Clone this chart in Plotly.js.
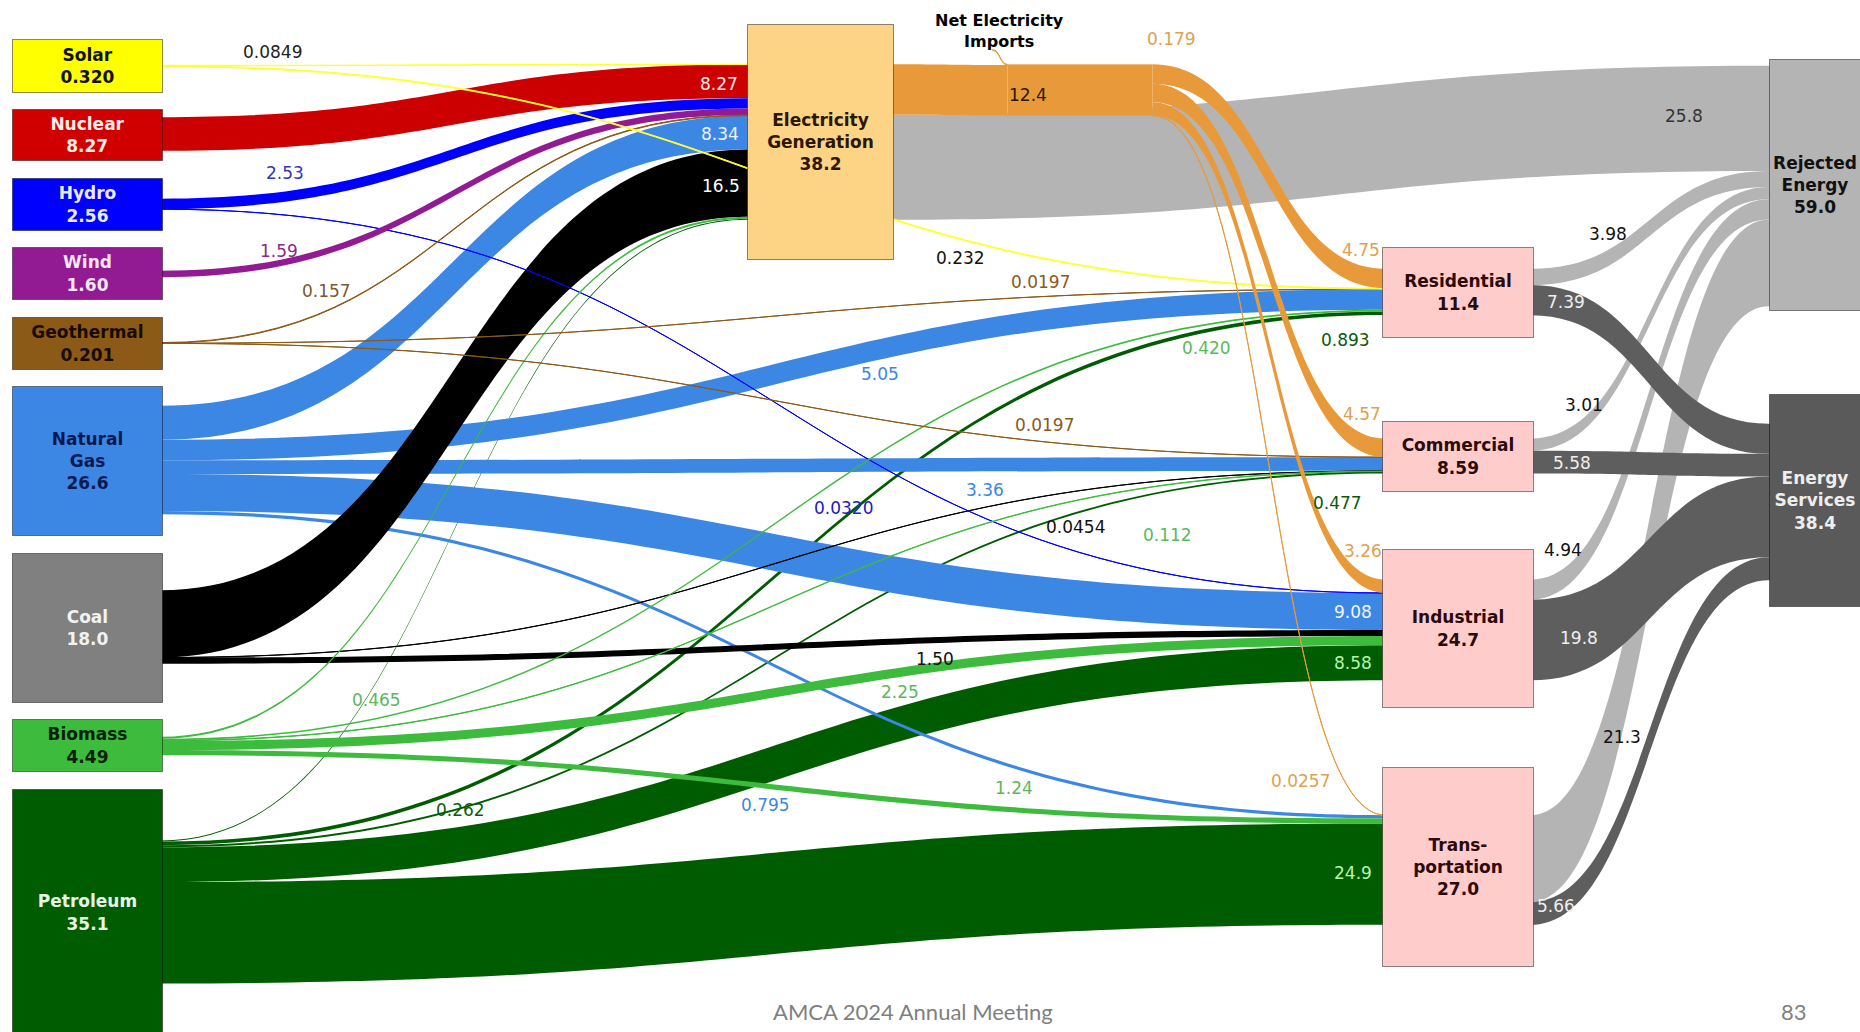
<!DOCTYPE html>
<html><head><meta charset="utf-8">
<script src="https://cdn.plot.ly/plotly-3.0.1.min.js"></script>
<style>html,body{margin:0;padding:0;background:#fff;overflow:hidden}#chart{width:1860px;height:1032px}</style>
</head><body><div id="chart"></div>
<script>
// ================= DATA =================
const nodeNames = ["Solar","Nuclear","Hydro","Wind","Geothermal","Natural Gas","Coal","Biomass","Petroleum",
  "Net Electricity Imports","Electricity Generation","Electricity","Residential","Commercial","Industrial",
  "Transportation","Rejected Energy","Energy Services"];
const nodeDisplay = ["Solar","Nuclear","Hydro","Wind","Geothermal","Natural<br>Gas","Coal","Biomass","Petroleum",
  "Net Electricity<br>Imports","Electricity<br>Generation","","Residential","Commercial","Industrial",
  "Trans-<br>portation","Rejected<br>Energy","Energy<br>Services"];
const nodeTotals = [0.320,8.27,2.56,1.60,0.201,26.6,18.0,4.49,35.1,0.179,38.2,null,11.4,8.59,24.7,27.0,59.0,38.4];

const linkSource = [10,12,13,14,15, 12,13,14,15, 8,8,8,8,8, 5,5,5,5,5, 6,6,6, 1, 2,2, 3, 7,7,7,7,7, 4,4,4, 0,0, 10,9,11,11,11,11];
const linkTarget = [16,16,16,16,16, 17,17,17,17, 15,14,12,13,10, 10,12,13,14,15, 10,14,13, 10, 10,14, 10, 10,12,13,14,15, 10,12,13, 10,12, 11,11,12,13,14,15];
const linkValue  = [25.8,3.98,3.01,4.94,21.3, 7.39,5.58,19.8,5.66, 24.9,8.58,0.893,0.477,0.262,
  8.34,5.05,3.36,9.08,0.795, 16.5,1.50,0.0454, 8.27, 2.53,0.0320, 1.59,
  0.465,0.420,0.112,2.25,1.24, 0.157,0.0197,0.0197, 0.0849,0.232, 12.4,0.179,4.75,4.57,3.26,0.0257];

// ================= LAYOUT / STYLE =================
const W = 1860, H = 1032;
const nodeCX = [87.5,87.5,87.5,87.5,87.5,87.5,87.5,87.5,87.5, 920, 820.5, 1080, 1458,1458,1458,1458, 1841.5,1841.5];
const nodeCY = [66,134,204,274,343,460,627,746,912, 50, 142, 90, 292,456,630,870, 186,502];
const nodeBox = [[12,39,163,93],[12,109,163,161],[12,178,163,231],[12,247,163,300],[12,317,163,370],
  [12,386,163,536],[12,553,163,703],[12,719,163,772],[12,789,163,1036], null, [747,24,894,260], null,
  [1382,247,1534,338],[1382,421,1534,492],[1382,549,1534,708],[1382,767,1534,967],
  [1769,59,1861,311],[1769,394,1861,607]];
const nodeFill = ["#ffff00","#d00000","#0000ff","#921a92","#8b5a17","#3c86e4","#808080","#3dbb3d","#005c00",
  "rgba(0,0,0,0)","#fdd386","#e89a3a","#ffcccc","#ffcccc","#ffcccc","#ffcccc","#b4b4b4","#5a5a5a"];
const nodeTextColor = ["#111","#ffeaea","#eaeaff","#f6e6f6","#1a0a00","#0a1a50","#f2f2f2","#0a200a","#e6f4e6",
  "#000","#2a1800","#000","#2a0a0a","#2a0a0a","#2a0a0a","#2a0a0a","#111","#eeeeee"];
const flowColorBySource = ["#ffff33","#cc0000","#0000ff","#921a92","#8b5a17","#3c86e4","#000000","#3dbb3d","#005c00",
  "#e89a3a","#e89a3a","#e89a3a"];
const rejectedFlow = "#b4b4b4", servicesFlow = "#5e5e5e";

const linkLabelPos = [[1684,116],[1608,234],[1584,405],[1563,550],[1622,737],
  [1566,302],[1572,463],[1579,638],[1556,906],
  [1353,873],[1353,663],[1345,340],[1337,503],[460,810],
  [720,134],[880,374],[985,490],[1353,612],[765,805],
  [721,186],[935,659],[1075,527],[719,84],[285,173],[843,508],[279,251],
  [376,700],[1206,348],[1167,535],[900,692],[1014,788],
  [326,291],[1040,282],[1044,425],[272,52],[960,258],
  [1028,95],[1171,39],[1361,250],[1362,414],[1363,551],[1300,781]];
const linkLabelColor = ["#333","#111","#111","#111","#111",
  "#eeeeee","#eeeeee","#eeeeee","#eeeeee",
  "#b8f5a8","#b8f5a8","#0b5a0b","#0b5a0b","#0b5a0b",
  "#eef4ff","#3c86e4","#3c86e4","#f0f6ff","#3c86e4",
  "#ffffff","#111","#111","#ffeaea","#3535b5","#2020c0","#8a2a8a",
  "#5cb85c","#5cb85c","#5cb85c","#5cb85c","#5cb85c",
  "#7a5a30","#8b5a17","#8b5a17","#222","#111",
  "#2a1800","#e0a050","#e0a050","#e0a050","#e0a050","#e0a050"];

const linkColor = linkSource.map((s,i)=> linkTarget[i]===16 ? rejectedFlow : linkTarget[i]===17 ? servicesFlow : flowColorBySource[s]);

const fmt = v => Number(v).toPrecision(3);
const px = x => x / W, py = y => 1 - y / H;

// ---- sankey: padding chosen so that 1 unit of energy is ~4.07 px thick ----
const ky = 4.07;
const col0 = [0,1,2,3,4,5,6,7,8,9].map(n=>{
  let a=0,b=0; linkSource.forEach((s,i)=>{if(s===n)a+=linkValue[i];}); linkTarget.forEach((t,i)=>{if(t===n)b+=linkValue[i];});
  return Math.max(a,b);}).reduce((p,c)=>p+c,0);
const pad = (H - ky*col0)/9;

const trace = {
  type:'sankey', arrangement:'fixed', orientation:'h',
  domain:{x:[0,1],y:[0,1]},
  hoverinfo:'none',
  textfont:{size:1,color:'rgba(0,0,0,0)',shadow:'none'},
  node:{
    label: nodeNames,
    x: nodeCX.map(px), y: nodeCY.map(v=>v/H),
    color: nodeFill,
    thickness: 145, pad: pad,
    line:{width:0}
  },
  link:{
    source: linkSource, target: linkTarget, value: linkValue,
    color: linkColor
  }
};

// ---- annotations ----
const ann = [];
nodeBox.forEach((b,i)=>{
  if(!b) return;
  const cx=(b[0]+b[2])/2, cy=(b[1]+b[3])/2;
  ann.push({xref:'paper',yref:'paper',x:px(cx),y:py(cy),xanchor:'center',yanchor:'middle',showarrow:false,
    text: nodeDisplay[i] + '<br>' + fmt(nodeTotals[i]),
    font:{family:'DejaVu Sans',size:17,color:nodeTextColor[i],weight:700},
    bgcolor:nodeFill[i], bordercolor:'rgba(0,0,0,0.45)', borderwidth:1, borderpad:0,
    width:b[2]-b[0]-2, height:b[3]-b[1]-2, align:'center', valign:'middle'});
});
ann.push({xref:'paper',yref:'paper',x:px(999),y:py(31),xanchor:'center',yanchor:'middle',showarrow:false,
  text:nodeDisplay[9], font:{family:'DejaVu Sans',size:16,color:'#000',weight:700}, align:'center'});
linkValue.forEach((v,i)=>{
  const p = linkLabelPos[i];
  ann.push({xref:'paper',yref:'paper',x:px(p[0]),y:py(p[1]),xanchor:'center',yanchor:'middle',showarrow:false,
    text: fmt(v), font:{family:'DejaVu Sans',size:17,color:linkLabelColor[i]}});
});
ann.push({xref:'paper',yref:'paper',x:px(913),y:py(1011),xanchor:'center',yanchor:'middle',showarrow:false,
  text:'AMCA 2024 Annual Meeting', font:{family:'Lato',size:22,color:'#7f7f7f'}});
ann.push({xref:'paper',yref:'paper',x:px(1794),y:py(1011),xanchor:'center',yanchor:'middle',showarrow:false,
  text:'83', font:{family:'Lato',size:22,color:'#7f7f7f'}});

const layout = {width:W,height:H,margin:{l:0,r:0,t:0,b:0},paper_bgcolor:'#fff',
  font:{family:'DejaVu Sans'}, annotations:ann, showlegend:false};
Plotly.newPlot('chart',[trace],layout,{displayModeBar:false,staticPlot:true});
</script></body></html>
